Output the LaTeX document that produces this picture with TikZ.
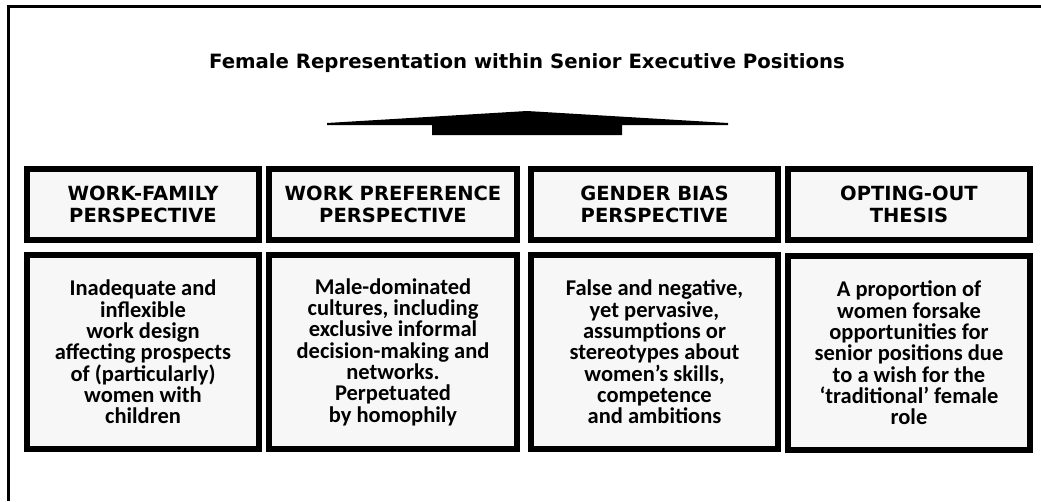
\documentclass[tikz,border=0pt]{standalone}
\usepackage{fontspec}
\setmainfont{DejaVu Sans}
\newfontfamily\bodyfont{Carlito}
\definecolor{boxgray}{HTML}{F7F7F7}

\begin{document}
\begin{tikzpicture}[x=1pt, y=-1pt,
    headbox/.style={draw, line width=6pt, fill=boxgray, minimum height=71pt, inner sep=0pt,
        align=center, font=\bfseries\fontsize{19.5}{22}\selectfont},
    textbox/.style={draw, line width=6pt, fill=boxgray, minimum height=194pt, inner sep=0pt,
        align=center, font=\bodyfont\bfseries\fontsize{22.5}{21.3}\selectfont}]
        \useasboundingbox (0,0) rectangle (1041,501);

        % Frame
        \draw[line width=3pt] (8.5,501) |- (1041,6.5);

        % Title
        \node[anchor=base, font=\bfseries\fontsize{19.7}{22}\selectfont] (title) at (527,68)
            {Female Representation within Senior Executive Positions};

        % Pointer under the title
        \fill (327,123) -- (527,111) -- (728,123) -- (728,125) -- (622,125) -- (622,135)
            -- (432,135) -- (432,125) -- (327,125) -- cycle;

        % Perspectives
        \node[headbox, minimum width=232pt] (h1) at (143,204.5) {WORK-FAMILY\\PERSPECTIVE};
        \node[headbox, minimum width=248pt] (h2) at (393,204.5) {WORK PREFERENCE\\PERSPECTIVE};
        \node[headbox, minimum width=247pt] (h3) at (654.5,204.5) {GENDER BIAS\\PERSPECTIVE};
        \node[headbox, minimum width=242pt] (h4) at (909,204.5) {OPTING-OUT\\THESIS};

        % Explanations
        \node[textbox, minimum width=232pt] (t1) at (143,352) {Inadequate and\\inflexible\\work design\\affecting prospects\\of (particularly)\\women with\\children};
        \node[textbox, minimum width=248pt] (t2) at (393,352) {Male-dominated\\cultures, including\\exclusive informal\\decision-making and\\networks.\\Perpetuated\\by homophily};
        \node[textbox, minimum width=247pt] (t3) at (654.5,352) {False and negative,\\yet pervasive,\\assumptions or\\stereotypes about\\women’s skills,\\competence\\and ambitions};
        \node[textbox, minimum width=242pt] (t4) at (909,353) {A proportion of\\women forsake\\opportunities for\\senior positions due\\to a wish for the\\‘traditional’ female\\role};
    \end{tikzpicture}
\end{document}
